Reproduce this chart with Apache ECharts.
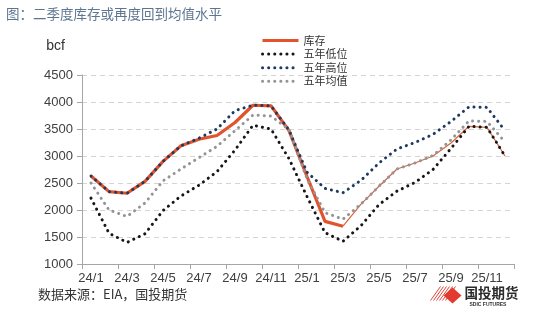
<!DOCTYPE html>
<html>
<head>
<meta charset="utf-8">
<script src="https://cdn.jsdelivr.net/npm/echarts@6/dist/echarts.min.js"></script>
<style>
  html, body { margin: 0; padding: 0; background: #fff; }
  #chart { width: 550px; height: 334px; }
</style>
</head>
<body>
<div id="chart"></div>
<script>
// Month labels, Jan 2024 – Dec 2025
const categories = [
  '24/1','24/2','24/3','24/4','24/5','24/6','24/7','24/8','24/9','24/10','24/11','24/12',
  '25/1','25/2','25/3','25/4','25/5','25/6','25/7','25/8','25/9','25/10','25/11','25/12'
];

// Working gas in storage, bcf (actual through 25/3)
const inventory = [2630, 2340, 2310, 2530, 2900, 3190, 3310, 3380, 3620, 3940, 3930, 3470,
                   2620, 1790, 1700];
// Projected path from 25/3 onwards
const outlook = [null, null, null, null, null, null, null, null, null, null, null, null,
                 null, null, 1700, 2110, 2440, 2760, 2870, 3000, 3240, 3550, 3530, 3000];
// Five-year range and average
const fiveYearLow  = [2220, 1570, 1400, 1560, 1990, 2260, 2460, 2710, 3110, 3570, 3500, 2950,
                      2250, 1580, 1420, 1710, 2100, 2350, 2510, 2750, 3140, 3550, 3530, 3000];
const fiveYearHigh = [2630, 2340, 2310, 2530, 2900, 3190, 3330, 3500, 3840, 3940, 3930, 3480,
                      2700, 2400, 2320, 2550, 2870, 3130, 3250, 3400, 3640, 3910, 3900, 3470];
const fiveYearMean = [2500, 2000, 1880, 2130, 2540, 2760, 2970, 3180, 3470, 3760, 3740, 3490,
                      2580, 1950, 1830, 2110, 2440, 2760, 2870, 3010, 3300, 3650, 3640, 3260];

const yTicks = { min: 1000, max: 4500, step: 500 };

const FONT = '"Liberation Sans", Arial, "Noto Sans CJK SC", sans-serif';
const CJK = '"Noto Sans CJK SC", "Liberation Sans", sans-serif';

const dotStyle = (color) => ({ color, width: 3, type: [0.1, 6], cap: 'round' });

const chart = echarts.init(document.getElementById('chart'), null, { renderer: 'canvas' });

chart.setOption({
  backgroundColor: '#ffffff',
  animation: false,
  title: {
    text: '图：二季度库存或再度回到均值水平',
    left: 1, top: 2,
    textStyle: { fontFamily: CJK, fontSize: 13.5, fontWeight: 'normal', color: '#5d7590' }
  },
  legend: {
    orient: 'vertical',
    left: 256, top: 30,
    itemWidth: 36, itemHeight: 10, itemGap: 2.6,
    // hide the marker dot on the line icons, keep full-width dotted strokes
    itemStyle: { opacity: 0 },
    lineStyle: { width: 3 },
    textStyle: { fontFamily: CJK, fontSize: 11, color: '#333' },
    data: [
      { name: '库存', icon: 'path://M0,0 L36,0 L36,3 L0,3 Z', itemStyle: { color: '#e2532d', opacity: 1 } },
      { name: '五年低位' },
      { name: '五年高位' },
      { name: '五年均值' }
    ]
  },
  grid: { left: 82, right: 36, top: 75, bottom: 70, containLabel: false },
  xAxis: {
    type: 'category',
    data: categories,
    boundaryGap: true,
    axisLine: { lineStyle: { color: '#a6a6a6', width: 1 } },
    axisTick: { show: true, interval: 1, length: 5, lineStyle: { color: '#a6a6a6' } },
    axisLabel: { interval: 1, margin: 8, fontFamily: FONT, fontSize: 13, color: '#404040' },
    splitLine: { show: false }
  },
  yAxis: {
    type: 'value',
    min: yTicks.min, max: yTicks.max, interval: yTicks.step,
    name: 'bcf',
    nameLocation: 'end',
    nameGap: 22,
    nameTextStyle: { fontFamily: FONT, fontSize: 14, color: '#333', align: 'right', padding: [0, 17, 0, 0] },
    axisLine: { show: true, lineStyle: { color: '#a6a6a6', width: 1 } },
    axisTick: { show: true, length: 5, lineStyle: { color: '#a6a6a6' } },
    axisLabel: { margin: 9, fontFamily: FONT, fontSize: 13, color: '#404040', formatter: (v) => String(v) },
    splitLine: { show: true, lineStyle: { color: '#d4d4d4', type: [5, 4], width: 1 } }
  },
  series: [
    {
      name: '库存预测', type: 'line', data: outlook, symbol: 'none', z: 2,
      lineStyle: { color: '#d8643f', width: 1.2 }
    },
    {
      name: '库存', type: 'line', data: inventory, symbol: 'none', z: 3,
      lineStyle: { color: '#e2532d', width: 3.2 }, itemStyle: { color: '#e2532d' }
    },
    {
      name: '五年低位', type: 'line', data: fiveYearLow, symbol: 'none', z: 4,
      lineStyle: dotStyle('#161616'), itemStyle: { color: '#161616' }
    },
    {
      name: '五年高位', type: 'line', data: fiveYearHigh, symbol: 'none', z: 4,
      lineStyle: dotStyle('#1f3a60'), itemStyle: { color: '#1f3a60' }
    },
    {
      name: '五年均值', type: 'line', data: fiveYearMean, symbol: 'none', z: 4,
      lineStyle: dotStyle('#949494'), itemStyle: { color: '#949494' }
    }
  ],
  graphic: [
    {
      type: 'text', left: 38, top: 288,
      style: { text: '数据来源：EIA，国投期货', font: '13px ' + CJK, fill: '#333' }
    },
    {
      type: 'group', left: 428, top: 284,
      children: [
        // hatch strokes
        ...[0, 3, 6, 9, 12, 15].map((d) => ({
          type: 'line',
          shape: { x1: d, y1: 16, x2: d + 10, y2: 2 },
          style: { stroke: '#e0463a', lineWidth: 1 }
        })),
        {
          type: 'polygon',
          shape: { points: [[22, 3], [31, 11], [22, 19], [13, 11]] },
          style: { fill: '#e23a30' }
        },
        {
          type: 'text', x: 34, y: 2,
          style: { text: '国投期货', font: 'bold 13.5px ' + CJK, fill: '#2b2b2b' }
        },
        {
          type: 'text', x: 39, y: 18,
          style: { text: 'SDIC FUTURES', font: 'bold 5px ' + FONT, fill: '#333' }
        }
      ]
    }
  ]
});
</script>
</body>
</html>
